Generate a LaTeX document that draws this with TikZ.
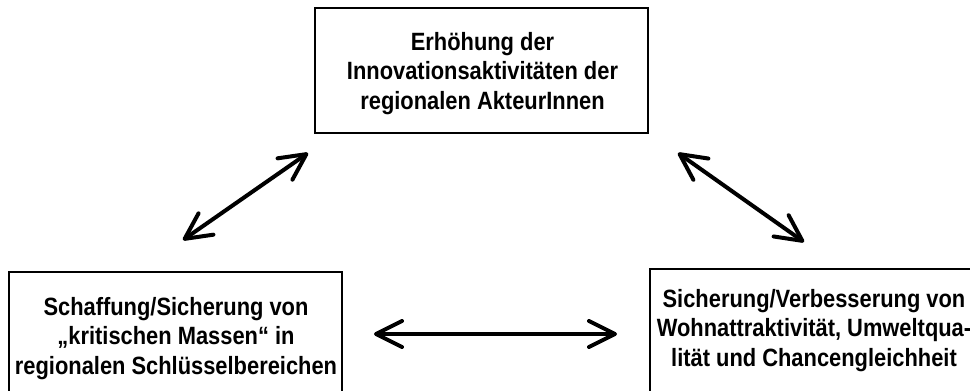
\documentclass[tikz,border=0pt]{standalone}
\usepackage{fontspec}
\setmainfont[FakeStretch=0.875]{Liberation Sans}
\usetikzlibrary{arrows.meta}
\tikzset{
  box/.style={draw, line width=2pt, minimum width=333pt, minimum height=125pt, inner sep=0pt},
  txt/.style={align=center, inner sep=0pt, font=\fontsize{25}{29.5}\selectfont\bfseries},
  dbl/.style={line width=4pt, {Straight Barb[length=26pt,width=26pt,round]}-{Straight Barb[length=26pt,width=26pt,round]}}
}
\begin{document}
\begin{tikzpicture}[x=1pt,y=-1pt]
\useasboundingbox (0,0) rectangle (970,391);
\node[box] (T) at (481.5,70.5) {};
\node[txt] (Tt) at (482.5,73.5) {Erhöhung der\\Innovationsaktivitäten der\\regionalen AkteurInnen};
\node[box] (L) at (175.5,334.5) {};
\node[txt] (Lt) at (176,338.5) {Schaffung/Sicherung von\\„kritischen Massen“ in\\regionalen Schlüsselbereichen};
\node[box] (R) at (816,331.5) {};
\node[txt] (Rt) at (814,330.5) {Sicherung/Verbesserung von\\Wohnattraktivität, Umweltqua-\\lität und Chancengleichheit};
\coordinate (a1) at (183,240);
\coordinate (a2) at (308,153);
\coordinate (b1) at (678,153);
\coordinate (b2) at (804,242);
\coordinate (c1) at (374,334);
\coordinate (c2) at (617,334);
\draw[dbl] (a1) -- (a2);
\draw[dbl] (b1) -- (b2);
\draw[dbl] (c1) -- (c2);
\end{tikzpicture}
\end{document}
